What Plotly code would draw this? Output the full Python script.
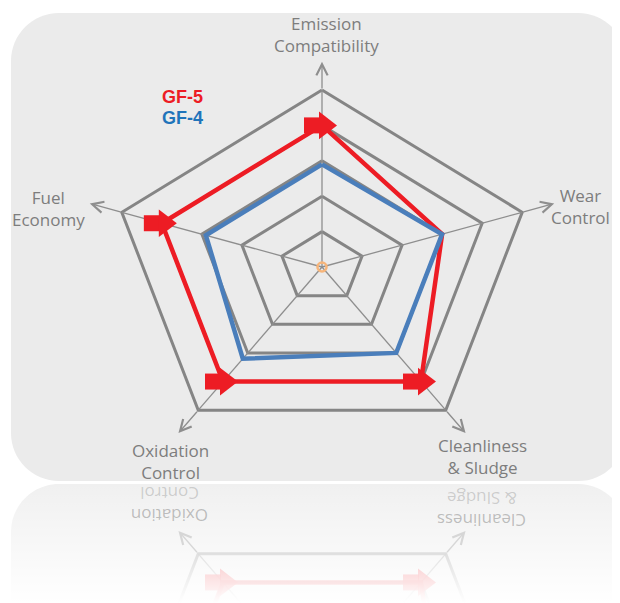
import numpy as np
import plotly.graph_objects as go

# ---------------- data ----------------
categories = ["Emission<br>Compatibility", "Wear<br>Control", "Cleanliness<br>& Sludge",
              "Oxidation<br>Control", "Fuel<br>Economy"]
gf5_values = [4.0, 3.0, 4.0, 4.0, 4.0]
gf4_values = [2.9, 3.0, 3.0, 3.2, 2.9]
series_names = ["GF-5", "GF-4"]
ring_levels = [1, 2, 3, 4, 5]

# ---------------- geometry / style ----------------
PAGE_MARGIN = 8            # default body margin of the html page
W, H = 620 - PAGE_MARGIN, 603 - PAGE_MARGIN   # figure fits the window exactly
CX, CY = 322, 267          # chart centre in window pixels
UX, UY = 42.1, 35.4        # pixels per value unit (x, y)
MIRROR_PX = 482            # reflection line (window pixels)

RED = "#ED1C24"
BLUE = "#4A7EBB"
GRID = "#858585"
SPOKE = "#8e8e8e"
LABEL = "#7d7d7d"
BG = "#ebebeb"


def px2x(px):
    return (px - CX) / UX


def px2y(py):
    return (CY - py) / UY


YM = px2y(MIRROR_PX)
angles = np.deg2rad(90 - 72 * np.arange(len(categories)))
R_MAX = max(ring_levels)
AXIS_LEN = 5.8


def polar_xy(vals, close=True, angs=None):
    a = angles if angs is None else np.asarray(angs)
    v = np.asarray(vals, float)
    x = list(v * np.cos(a))
    y = list(v * np.sin(a))
    if close:
        x.append(x[0])
        y.append(y[0])
    return x, y


def chart_traces(mirror=False, opacity=1.0):
    def fy(ys):
        if not mirror:
            return ys
        return [None if v is None else 2 * YM - v for v in ys]

    common = dict(hoverinfo="skip", showlegend=False, opacity=opacity)
    tr = []
    for lvl in ring_levels:
        x, y = polar_xy([lvl] * len(categories))
        tr.append(go.Scatter(x=x, y=fy(y), mode="lines",
                             line=dict(color=GRID, width=3), **common))
    sx, sy = [], []
    for a in angles:
        sx += [0, R_MAX * np.cos(a), None]
        sy += [0, R_MAX * np.sin(a), None]
    tr.append(go.Scatter(x=sx, y=fy(sy), mode="lines",
                         line=dict(color=SPOKE, width=1.3), **common))
    x, y = polar_xy(gf5_values)
    tr.append(go.Scatter(x=x, y=fy(y), mode="lines", name=series_names[0],
                         line=dict(color=RED, width=4.5), **common))
    x, y = polar_xy(gf4_values)
    tr.append(go.Scatter(x=x, y=fy(y), mode="lines", name=series_names[1],
                         line=dict(color=BLUE, width=4.5), **common))
    tr.append(go.Scatter(x=[0], y=fy([0.0]), mode="markers",
                         marker=dict(symbol="circle-open", size=9, color="#F7B57A",
                                     line=dict(width=2.5, color="#F7B57A")), **common))
    # block-arrow markers where GF-5 improves on GF-4 (shaft + head)
    idx = [i for i, (a, b) in enumerate(zip(gf5_values, gf4_values)) if a > b]
    x, y = polar_xy([gf5_values[i] for i in idx], close=False, angs=angles[idx])
    shaft_x = [v + (-10) / UX for v in x]
    head_x = [v + 3 / UX for v in x]
    tr.append(go.Scatter(x=shaft_x, y=fy(y), mode="markers",
                         marker=dict(symbol="square", size=16, color=RED, line=dict(width=0)),
                         **common))
    tr.append(go.Scatter(x=head_x, y=fy(y), mode="markers",
                         marker=dict(symbol="triangle-right", size=24, color=RED,
                                     line=dict(width=0)), **common))
    return tr


def rrect_path(x0, y0, x1, y1, r, round_top=True, round_bottom=True):
    # window pixel coords -> figure paper coords
    k = 0.5523 * r
    X = lambda px: f"{(px - PAGE_MARGIN) / W:.5f}"
    Y = lambda py: f"{1 - (py - PAGE_MARGIN) / H:.5f}"
    p = []
    if round_top:
        p.append(f"M{X(x0 + r)},{Y(y0)} L{X(x1 - r)},{Y(y0)}")
        p.append(f"C{X(x1 - r + k)},{Y(y0)} {X(x1)},{Y(y0 + r - k)} {X(x1)},{Y(y0 + r)}")
    else:
        p.append(f"M{X(x0)},{Y(y0)} L{X(x1)},{Y(y0)}")
    if round_bottom:
        p.append(f"L{X(x1)},{Y(y1 - r)}")
        p.append(f"C{X(x1)},{Y(y1 - r + k)} {X(x1 - r + k)},{Y(y1)} {X(x1 - r)},{Y(y1)}")
        p.append(f"L{X(x0 + r)},{Y(y1)}")
        p.append(f"C{X(x0 + r - k)},{Y(y1)} {X(x0)},{Y(y1 - r + k)} {X(x0)},{Y(y1 - r)}")
    else:
        p.append(f"L{X(x1)},{Y(y1)} L{X(x0)},{Y(y1)}")
    if round_top:
        p.append(f"L{X(x0)},{Y(y0 + r)}")
        p.append(f"C{X(x0)},{Y(y0 + r - k)} {X(x0 + r - k)},{Y(y0)} {X(x0 + r)},{Y(y0)} Z")
    else:
        p.append("Z")
    return " ".join(p)


fig = go.Figure()

# reflection (drawn first, then faded by a white gradient)
for t in chart_traces(mirror=True, opacity=0.8):
    fig.add_trace(t)
fig.add_trace(go.Scatter(
    x=[px2x(0), px2x(640), px2x(640), px2x(0), px2x(0)],
    y=[px2y(MIRROR_PX + 1), px2y(MIRROR_PX + 1), px2y(610), px2y(610), px2y(MIRROR_PX + 1)],
    mode="none", fill="toself", hoverinfo="skip", showlegend=False,
    fillgradient=dict(type="vertical",
                      colorscale=[[0, "rgba(255,255,255,1)"], [1, "rgba(255,255,255,0.25)"]],
                      start=px2y(603), stop=px2y(MIRROR_PX + 1))))

# main chart
for t in chart_traces(mirror=False):
    fig.add_trace(t)

annotations = []
label_pos = [(326, 34), (580, 206.5), (482, 456), (170, 461), (48, 208)]
for text, (lx, ly) in zip(categories, label_pos):
    annotations.append(dict(x=px2x(lx), y=px2y(ly), xref="x", yref="y", text=text,
                            showarrow=False, xanchor="center", yanchor="middle",
                            font=dict(family="Open Sans", size=17, color=LABEL)))

# axis arrow heads
for i, a in enumerate(angles):
    annotations.append(dict(x=AXIS_LEN * np.cos(a), y=AXIS_LEN * np.sin(a),
                            ax=R_MAX * np.cos(a), ay=R_MAX * np.sin(a),
                            xref="x", yref="y", axref="x", ayref="y", text="",
                            showarrow=True, arrowhead=5, arrowsize=1.7, arrowwidth=1.3,
                            arrowcolor=SPOKE))
    if i in (2, 3):
        annotations.append(dict(x=AXIS_LEN * np.cos(a), y=2 * YM - AXIS_LEN * np.sin(a),
                                ax=R_MAX * np.cos(a), ay=2 * YM - R_MAX * np.sin(a),
                                xref="x", yref="y", axref="x", ayref="y", text="",
                                showarrow=True, arrowhead=5, arrowsize=1.7, arrowwidth=1.3,
                                arrowcolor="rgba(142,142,142,0.3)"))

# reflected labels of the lower axes
for text, (lx, ly) in [(categories[3], label_pos[3]), (categories[2], label_pos[2])]:
    lines = text.split("<br>")
    for j, line in enumerate(lines):
        line_y = ly + (j - 0.5) * 22
        annotations.append(dict(x=px2x(lx), y=px2y(2 * MIRROR_PX - line_y + 2), xref="x", yref="y",
                                text=line, showarrow=False, textangle=180,
                                xanchor="center", yanchor="middle",
                                font=dict(family="Open Sans", size=17,
                                          color="rgba(125,125,125,%.2f)" % (0.33 if j else 0.48))))

# series labels
for name, color, (lx, ly) in zip(series_names, [RED, "#1F74BA"], [(182, 97), (182, 118)]):
    annotations.append(dict(x=px2x(lx), y=px2y(ly), xref="x", yref="y", text=f"<b>{name}</b>",
                            showarrow=False, xanchor="center", yanchor="middle",
                            font=dict(family="Liberation Sans", size=18, color=color)))

fig.update_layout(
    width=W, height=H,
    margin=dict(l=0, r=0, t=0, b=0),
    paper_bgcolor="white", plot_bgcolor="white",
    xaxis=dict(range=[px2x(PAGE_MARGIN), px2x(PAGE_MARGIN + W)], visible=False, fixedrange=True),
    yaxis=dict(range=[px2y(PAGE_MARGIN + H), px2y(PAGE_MARGIN)], visible=False, fixedrange=True),
    showlegend=False,
    annotations=annotations,
    shapes=[
        dict(type="path", xref="paper", yref="paper", layer="below",
             path=rrect_path(11, 13, 626, 481, 48), fillcolor=BG, line=dict(width=0)),
        dict(type="path", xref="paper", yref="paper", layer="below",
             path=rrect_path(11, 484, 626, 700, 48, round_bottom=False),
             fillcolor=BG, line=dict(width=0)),
    ],
)

fig.write_html("out.html")
